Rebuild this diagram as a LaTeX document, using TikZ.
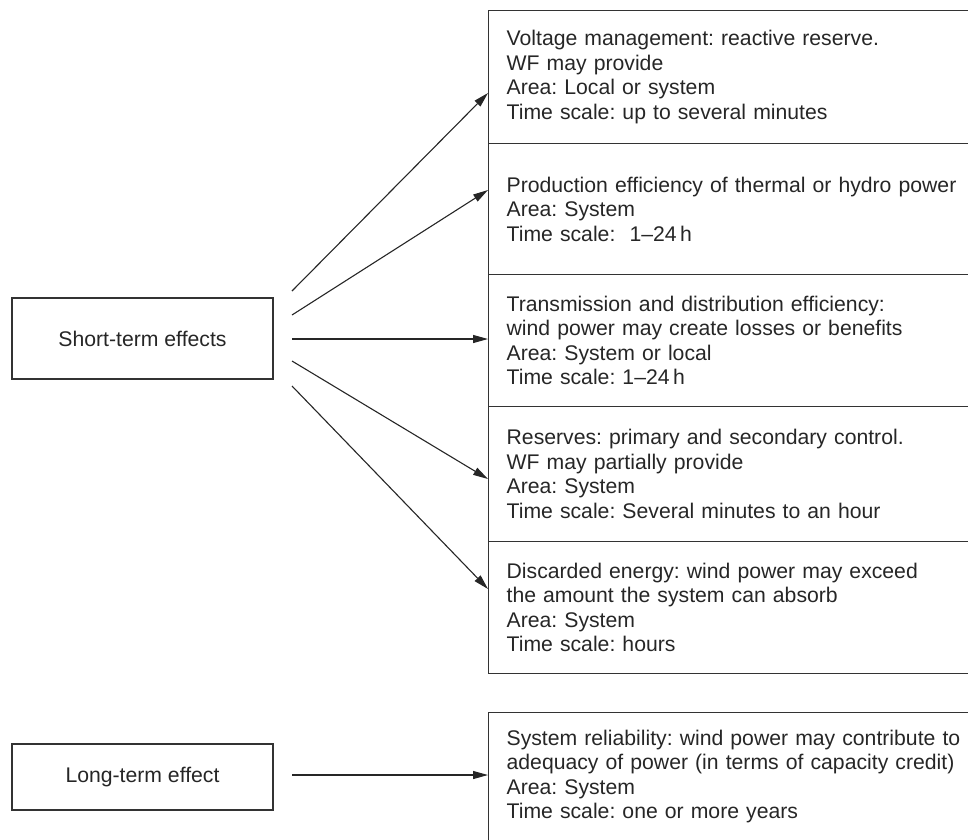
\documentclass[tikz,border=0pt]{standalone}
\usepackage{fontspec}
\setmainfont{Liberation Sans}
\usetikzlibrary{arrows.meta}

\begin{document}
\begin{tikzpicture}[x=1pt,y=-1pt,
    font=\fontsize{21.2}{24.5}\selectfont\frenchspacing,text=black!85,
    effect/.style={draw=black!80,line width=1.3pt,minimum width=261pt,inner sep=0pt},
    part/.style={draw=black!80,line width=1.3pt,anchor=north west,text width=530pt,inner xsep=18pt,inner ysep=0pt,align=left},
    link/.style={draw=black!85,line width=1.1pt,-{Triangle[length=15pt,width=8pt]}}]
    \useasboundingbox (0,0) rectangle (968,839);
    % effects on the left
    \node at (142.5,338.5) [effect,minimum height=81pt] (short) {Short-term effects};
    \node at (142.5,777) [effect,minimum height=66pt] (long) {Long-term effect};
    % column of consequences
    \node at (488,10) [part,minimum height=133pt] (volt) {Voltage management: reactive reserve.\\ WF may provide\\ Area: Local or system\\ Time scale: up to several minutes};
    \node at (488,143) [part,minimum height=131pt] (prod) {Production efficiency of thermal or hydro power\\ Area: System\\ Time scale:\ \ 1--24\,h};
    \node at (488,274) [part,minimum height=132pt] (trans) {Transmission and distribution efficiency:\\ wind power may create losses or benefits\\ Area: System or local\\ Time scale: 1--24\,h};
    \node at (488,406) [part,minimum height=135pt] (res) {Reserves: primary and secondary control.\\ WF may partially provide\\ Area: System\\ Time scale: Several minutes to an hour};
    \node at (488,541) [part,minimum height=132pt] (disc) {Discarded energy: wind power may exceed\\ the amount the system can absorb\\ Area: System\\ Time scale: hours};
    \node at (488,712) [part,minimum height=128pt] (rel) {System reliability: wind power may contribute to\\ adequacy of power (in terms of capacity credit)\\ Area: System\\ Time scale: one or more years};
    % arrow ends
    \coordinate (s1) at (292,291); \coordinate (e1) at (488,93);
    \coordinate (s2) at (292,315); \coordinate (e2) at (488,190);
    \coordinate (s3) at (292,339); \coordinate (e3) at (488,339);
    \coordinate (s4) at (292,361); \coordinate (e4) at (488,479);
    \coordinate (s5) at (292,386); \coordinate (e5) at (488,589);
    \coordinate (s6) at (292,775); \coordinate (e6) at (488,775);
    \draw[link] (s1) -- (e1);
    \draw[link] (s2) -- (e2);
    \draw[link] (s3) -- (e3);
    \draw[link] (s4) -- (e4);
    \draw[link] (s5) -- (e5);
    \draw[link] (s6) -- (e6);
\end{tikzpicture}
\end{document}
